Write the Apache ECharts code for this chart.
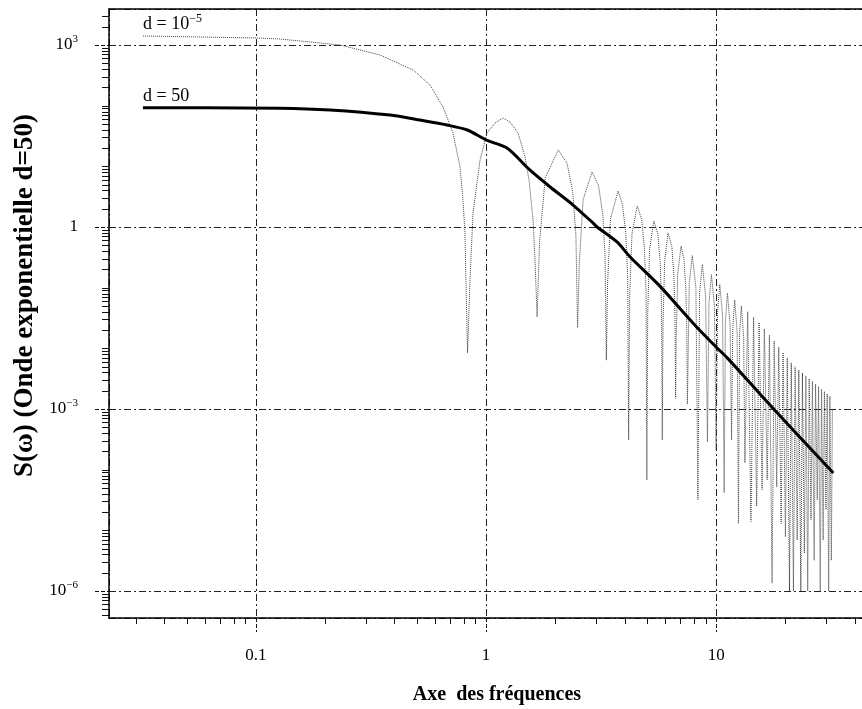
<!DOCTYPE html>
<html><head><meta charset="utf-8">
<script src="https://cdn.jsdelivr.net/npm/echarts@6/dist/echarts.min.js"></script>
<style>html,body{margin:0;padding:0;background:#fff}#c{width:862px;height:709px}</style>
</head><body><div id="c"></div>
<script>
// ---------------- data ----------------
// thick black curve, d = 50 : [omega, S]
const curveD50 = [
  [0.0323, 92], [0.06, 92], [0.127, 91], [0.21, 85], [0.383, 70], [0.516, 58],
  [0.677, 48], [0.83, 39.7], [1.0, 27.2], [1.234, 20], [1.55, 8.7], [1.9, 4.56],
  [2.39, 2.3], [2.92, 1.16], [3.04, 1.0], [3.71, 0.566], [4.23, 0.32], [5.71, 0.105],
  [7.94, 0.026], [10.1, 0.0101], [11.2, 6.9e-3], [15.5, 1.77e-3], [21.6, 4.5e-4], [32.3, 8.8e-5]
];
// thin dotted curve, d = 1e-5 : [omega, S]
const curveDsmall = [
  // main lobe
  [0.0323, 1406], [0.101, 1304], [0.127, 1256], [0.232, 1000], [0.346, 684], [0.482, 387],
  [0.571, 219], [0.65, 95], [0.719, 35.4], [0.771, 9.75], [0.794, 2.8], [0.81, 0.8], [0.831, 0.0084],
  // lobe 1
  [0.852, 0.134], [0.878, 1.70], [0.942, 12.7], [1.010, 35.4], [1.094, 51.8], [1.186, 62.6],
  [1.271, 53.8], [1.378, 35.4], [1.477, 14.3], [1.538, 5.95], [1.601, 1.30], [1.633, 0.286], [1.667, 0.0329],
  // lobe 2
  [1.709, 0.56], [1.809, 6.5], [2.06, 18.6], [2.25, 11.2], [2.383, 3.7], [2.458, 0.74], [2.5, 0.022],
  // lobe 3
  [2.542, 0.24], [2.642, 2.8], [2.89, 8.07], [3.083, 4.8], [3.217, 1.6], [3.292, 0.32], [3.333, 0.0064],
  // lobe 4
  [3.375, 0.118], [3.475, 1.37], [3.75, 3.92], [3.917, 2.35], [4.05, 0.78], [4.125, 0.157], [4.167, 3.1e-4],
  // lobe 5
  [4.208, 0.067], [4.308, 0.78], [4.54, 2.22], [4.75, 1.33], [4.883, 0.44], [4.958, 0.089], [5.0, 6.8e-5],
  // lobe 6
  [5.042, 0.038], [5.142, 0.44], [5.36, 1.26], [5.583, 0.76], [5.717, 0.25], [5.792, 0.05], [5.833, 3.1e-4],
  // lobe 7
  [5.875, 0.024], [5.975, 0.28], [6.18, 0.80], [6.417, 0.48], [6.55, 0.16], [6.625, 0.032], [6.667, 1.5e-3],
  // lobe 8
  [6.708, 0.0146], [6.808, 0.17], [7.04, 0.486], [7.25, 0.29], [7.383, 0.097], [7.458, 0.019], [7.5, 1.2e-3],
  // lobes 9 - 15
  [7.642, 0.118], [7.875, 0.337], [8.167, 0.10], [8.333, 3.2e-5],
  [8.475, 0.084], [8.71, 0.241], [9.0, 0.072], [9.167, 2.9e-4],
  [9.308, 0.057], [9.54, 0.164], [9.833, 0.049], [10.0, 2.1e-4],
  [10.142, 0.040], [10.37, 0.1135], [10.667, 0.034], [10.833, 4.2e-5],
  [10.975, 0.028], [11.2, 0.081], [11.5, 0.024], [11.667, 3.1e-4],
  [11.808, 0.022], [12.04, 0.0627], [12.333, 0.019], [12.5, 1.3e-5],
  [12.642, 0.0174], [12.87, 0.0497], [13.167, 0.015], [13.333, 1.3e-4],
  // lobes 16 - 37
  [13.71, 0.040], [14.167, 1.4e-5], [14.54, 0.0325], [15.0, 2.5e-5],
  [15.37, 0.0267], [15.833, 4.7e-5], [16.2, 0.0209], [16.667, 6.8e-5],
  [17.04, 0.0164], [17.5, 1.35e-6], [17.87, 0.0131], [18.333, 5.2e-5],
  [18.71, 0.0105], [19.167, 1.3e-5], [19.54, 8.5e-3], [20.0, 7.8e-6],
  [20.37, 6.98e-3], [20.833, 1.0e-6], [21.2, 5.75e-3], [21.667, 1.0e-6],
  [22.04, 4.96e-3], [22.5, 6.9e-6], [22.87, 4.4e-3], [23.333, 1.0e-6],
  [23.71, 3.92e-3], [24.167, 4.2e-6], [24.54, 3.5e-3], [25.0, 1.0e-6],
  [25.37, 3.16e-3], [25.833, 1.5e-5], [26.2, 2.85e-3], [26.667, 3.2e-6],
  [27.04, 2.58e-3], [27.5, 3.2e-5], [27.87, 2.34e-3], [28.333, 1.0e-6],
  [28.71, 2.13e-3], [29.167, 6.9e-6], [29.54, 1.95e-3], [30.0, 2.2e-5],
  [30.37, 1.78e-3], [30.833, 1.0e-6], [31.2, 1.62e-3], [31.667, 3.2e-6],
  [32.0, 1.0e-3]
];
const curveLabelMain = ['d = 10', 'd = 50'];
const curveLabelSup = ['−5', ''];

// axes
const xRange = [0.023, 50];
const yRange = [3.59e-7, 3917];
const xTickValues = [0.1, 1, 10];
const xTickLabels = ['0.1', '1', '10'];
const xMinorTickValues = [0.03, 0.04, 0.05, 0.06, 0.07, 0.08, 0.09,
  0.2, 0.3, 0.4, 0.5, 0.6, 0.7, 0.8, 0.9, 2, 3, 4, 5, 6, 7, 8, 9, 20, 30, 40];
const yTickValues = [1e-6, 1e-3, 1, 1e3];
const yTickLabels = ['{m|10}{s|−6}', '{m|10}{s|−3}', '{m|1}', '{m|10}{s|3}'];
const yMinorMantissas = [1, 2, 3, 4, 5, 6, 7, 8, 9];
const yMinorDecades = [-7, -6, -5, -4, -3, -2, -1, 0, 1, 2, 3];
const xTitle = 'Axe  des fréquences';
const yTitle = 'S(ω) (Onde exponentielle d=50)';

// ---------------- chart ----------------
const FONT = "'Liberation Serif','Times New Roman',serif";
const yMinorTickValues = [];
yMinorDecades.forEach(function (d) {
  yMinorMantissas.forEach(function (m) {
    const v = m * Math.pow(10, d);
    if (v > yRange[0] && v < yRange[1] &&
        !yTickValues.some(function (t) { return Math.abs(Math.log10(t) - Math.log10(v)) < 1e-6; })) {
      yMinorTickValues.push(v);
    }
  });
});
function findIdx(arr, v) {
  for (let i = 0; i < arr.length; i++) {
    if (Math.abs(Math.log10(arr[i]) - Math.log10(v)) < 1e-6) return i;
  }
  return -1;
}
const gridLineStyle = { color: '#222', width: 1, type: [7, 3, 2, 3] };

function tickSeries(values, axis, len, dashed) {
  return {
    type: 'custom', silent: true, clip: false, z: 5,
    xAxisIndex: 0, yAxisIndex: 0,
    data: values.map(function (v) { return axis === 'x' ? [v, yRange[0]] : [xRange[0], v]; }),
    renderItem: function (params, api) {
      const p = api.coord([api.value(0), api.value(1)]);
      let shape;
      if (axis === 'x') {
        const x = Math.round(p[0]) + 0.5;
        shape = { x1: x, y1: p[1], x2: x, y2: p[1] + len };
      } else {
        const y = Math.round(p[1]) + 0.5;
        shape = { x1: p[0] - len, y1: y, x2: p[0], y2: y };
      }
      return { type: 'line', shape: shape,
        style: { stroke: '#111', lineWidth: 1, lineDash: dashed ? [4, 2] : [] } };
    }
  };
}

const chart = echarts.init(document.getElementById('c'), null, { renderer: 'canvas' });
chart.setOption({
  animation: false,
  backgroundColor: '#fff',
  grid: { left: 109, top: 9, right: -15, bottom: 91, outerBoundsMode: 'none', containLabel: false },
  xAxis: [{
    type: 'log', logBase: 10, min: xRange[0], max: xRange[1],
    axisLine: { show: true, onZero: false, lineStyle: { color: '#000', width: 1.5 } },
    axisTick: { show: false }, minorTick: { show: false },
    splitLine: { show: true, lineStyle: gridLineStyle },
    axisLabel: {
      show: true, margin: 29, color: '#000', fontFamily: FONT, fontSize: 17,
      showMinLabel: true, showMaxLabel: true,
      formatter: function (v) { const i = findIdx(xTickValues, v); return i < 0 ? '' : xTickLabels[i]; }
    },
    name: xTitle, nameLocation: 'middle', nameGap: 67,
    nameTextStyle: { fontFamily: FONT, fontSize: 20, fontWeight: 'bold', color: '#000', padding: [0, 0, 0, 8] }
  }, {
    type: 'log', logBase: 10, min: xRange[0], max: xRange[1], position: 'top',
    axisLine: { show: true, onZero: false, lineStyle: { color: '#000', width: 1.5 } },
    axisTick: { show: false }, axisLabel: { show: false }, splitLine: { show: false }
  }],
  yAxis: [{
    type: 'log', logBase: 1000, min: yRange[0], max: yRange[1],
    axisLine: { show: true, onZero: false, lineStyle: { color: '#000', width: 1.5 } },
    axisTick: { show: false }, minorTick: { show: false },
    splitLine: { show: true, lineStyle: gridLineStyle },
    axisLabel: {
      show: true, margin: 31, color: '#000',
      showMinLabel: true, showMaxLabel: true,
      formatter: function (v) { const i = findIdx(yTickValues, v); return i < 0 ? '' : yTickLabels[i]; },
      rich: {
        m: { fontFamily: FONT, fontSize: 17, lineHeight: 22, color: '#000' },
        s: { fontFamily: FONT, fontSize: 11, lineHeight: 11, verticalAlign: 'top', color: '#000' }
      }
    },
    name: yTitle, nameLocation: 'middle', nameGap: 68,
    nameTextStyle: { fontFamily: FONT, fontSize: 27, fontWeight: 'bold', color: '#000', padding: [0, 0, 0, 36] }
  }],
  series: [
    {
      type: 'line', name: 'd = 1e-5', data: curveDsmall, showSymbol: false, symbol: 'none',
      lineStyle: { color: '#444', width: 1, type: 'dotted' }, z: 3, silent: true
    },
    {
      type: 'line', name: 'd = 50', data: curveD50, showSymbol: false, symbol: 'none', smooth: 0.25,
      lineStyle: { color: '#000', width: 3 }, z: 4, silent: true
    },
    tickSeries(xMinorTickValues, 'x', 6, false),
    tickSeries(xTickValues, 'x', 14, true),
    tickSeries(yMinorTickValues, 'y', 7, false),
    tickSeries(yTickValues, 'y', 14, true)
  ],
  graphic: [
    { type: 'text', x: 143, y: 24, silent: true,
      style: { text: '{m|' + curveLabelMain[0] + '}{s|' + curveLabelSup[0] + '}', align: 'left', verticalAlign: 'middle',
        rich: { m: { fontFamily: FONT, fontSize: 18, lineHeight: 22, fill: '#000' },
                s: { fontFamily: FONT, fontSize: 12, lineHeight: 12, verticalAlign: 'top', fill: '#000' } } } },
    { type: 'text', x: 143, y: 96, silent: true,
      style: { text: curveLabelMain[1], align: 'left', verticalAlign: 'middle',
        fontFamily: FONT, fontSize: 18, fill: '#000' } }
  ]
});
</script></body></html>
